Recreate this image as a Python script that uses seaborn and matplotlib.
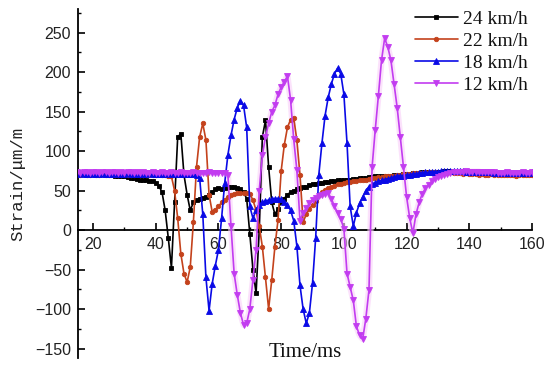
import numpy as np
import matplotlib
matplotlib.use("Agg")
import matplotlib.pyplot as plt
import seaborn as sns
from matplotlib.ticker import MultipleLocator

# ---------------- data ----------------
time_ms = list(range(15, 161))  # sampling times, 1 ms

s24 = [72, 72, 71, 72, 71, 71, 71, 70, 71, 70,        # 15-24
       70, 70, 69, 69, 68, 68, 67, 66, 66, 65,        # 25-34
       64, 63, 63, 62, 62, 60, 56, 48, 25, -10,       # 35-44
       -48, 35, 118, 122, 70, 45, 25, 35, 38, 40,     # 45-54
       41, 42, 45, 48, 52, 53, 52, 53, 54, 54,        # 55-64
       55, 53, 52, 48, 40, -5, -50, -80, 0, 118,      # 65-74
       139, 80, 35, 20, 27, 35, 40, 45, 48, 50,       # 75-84
       52, 53, 54, 55, 57, 58, 59, 60, 60, 61,        # 85-94
       61, 62, 62, 63, 63, 64, 64, 64, 65, 65,        # 95-104
       66, 66, 66, 67, 67, 68, 68, 68, 69, 69,        # 105-114
       69, 70, 70, 70, 71, 71, 71, 72, 72, 72,        # 115-124
       73, 73, 73, 74, 74, 74, 74, 75, 75, 75,        # 125-134
       75, 75, 75, 74, 74, 74, 74, 74, 73, 73,        # 135-144
       73, 73, 72, 72, 72, 72, 72, 72, 71, 72,        # 145-154
       71, 71, 72, 71, 71, 72]                        # 155-160

s22 = [71, 70, 71, 70, 70, 71, 70, 70, 71, 70,
       70, 71, 70, 70, 70, 71, 70, 70, 70, 71,
       70, 70, 71, 70, 70, 70, 71, 70, 70, 69,
       68, 50, 15, -30, -55, -66, -47, 10, 80, 118,
       135, 114, 45, 23, 26, 30, 35, 38, 42, 45,
       46, 47, 47, 47, 47, 46, 38, 25, 5, -21,
       -60, -100, -63, -21, 13, 75, 108, 130, 140, 142,
       114, 70, 10, 20, 27, 32, 37, 44, 48, 51,
       53, 55, 56, 58, 59, 60, 61, 61, 62, 62,
       63, 63, 64, 65, 66, 66, 67, 67, 68, 68,
       69, 69, 70, 70, 71, 71, 71, 72, 72, 72,
       72, 73, 73, 73, 73, 72, 72, 72, 72, 73,
       72, 72, 72, 71, 72, 71, 71, 71, 70, 71,
       70, 70, 71, 70, 70, 70, 70, 70, 70, 70,
       69, 70, 70, 70, 70, 70]

s18 = [71, 72, 71, 71, 72, 71, 71, 72, 71, 71,
       71, 71, 72, 71, 71, 71, 72, 71, 71, 71,
       71, 71, 71, 72, 71, 71, 71, 71, 71, 72,
       71, 71, 71, 71, 71, 71, 71, 71, 70, 66,
       20, -60, -102, -68, -45, -25, 15, 60, 95, 120,
       140, 155, 164, 158, 130, 30, 15, 25, 32, 35,
       37, 38, 39, 40, 40, 39, 36, 32, 25, 12,
       -20, -70, -100, -118, -105, -67, -10, 70, 110, 145,
       168, 185, 198, 205, 198, 172, 110, 30, 5, 22,
       34, 42, 50, 55, 58, 60, 62, 63, 64, 65,
       66, 67, 68, 68, 69, 70, 70, 71, 71, 72,
       72, 73, 73, 74, 74, 74, 75, 75, 75, 75,
       75, 75, 75, 75, 74, 74, 74, 74, 73, 73,
       73, 73, 73, 72, 72, 72, 72, 72, 72, 72,
       72, 72, 72, 72, 72, 73]

s12 = [73, 72, 73, 73, 72, 73, 73, 72, 73, 73,
       72, 73, 73, 72, 73, 72, 73, 73, 72, 73,
       72, 73, 72, 72, 73, 72, 72, 73, 72, 72,
       73, 72, 72, 73, 72, 72, 72, 73, 72, 72,
       72, 72, 73, 72, 72, 72, 72, 72, 70, 5,
       -55, -82, -105, -120, -118, -100, -63, -25, 50, 95,
       118, 135, 150, 158, 172, 181, 188, 195, 165, 115,
       76, 12, 22, 28, 34, 38, 41, 43, 45, 46,
       47, 40, 30, 22, 14, 2, -55, -72, -89, -122,
       -133, -138, -112, -76, 80, 127, 170, 215, 243, 232,
       215, 185, 155, 118, 80, 42, 15, -4, 20, 35,
       46, 53, 57, 62, 65, 67, 69, 70, 71, 72,
       73, 73, 74, 74, 75, 74, 74, 74, 74, 73,
       73, 73, 73, 73, 72, 72, 72, 73, 72, 72,
       72, 72, 73, 72, 72, 73]

labels = ["24 km/h", "22 km/h", "18 km/h", "12 km/h"]
series = [s24, s22, s18, s12]
colors = ["#000000", "#C4421C", "#0A0AE6", "#C23CF0"]
markers = ["s", "o", "^", "v"]
msizes = [3.0, 3.2, 3.8, 3.8]

x_ticks = [20, 40, 60, 80, 100, 120, 140, 160]
y_ticks = [-150, -100, -50, 0, 50, 100, 150, 200, 250]

# ---------------- figure ----------------
sns.set_theme(style="white")
plt.rcParams["font.family"] = ["Liberation Sans", "DejaVu Sans"]

fig = plt.figure(figsize=(5.5, 3.69), dpi=100)
ax = fig.add_axes([0.1418, 0.0298, 0.8255, 0.9458])

# faint pink halo seen around the 12 km/h curve
sns.lineplot(x=time_ms, y=s12, ax=ax, color="#F9CFF9", linewidth=4.5,
             alpha=0.6, legend=False, zorder=2.6, estimator=None)

for vals, lab, col, mk, ms in zip(series, labels, colors, markers, msizes):
    sns.lineplot(x=time_ms, y=vals, ax=ax, color=col, marker=mk,
                 markersize=ms, markeredgecolor=col, markeredgewidth=0.6,
                 linewidth=1.2, label=lab, zorder=3, estimator=None)

ax.set_xlim(15.2, 160)
ax.set_ylim(-162, 280)

for sp in ["top", "right"]:
    ax.spines[sp].set_visible(False)
ax.spines["bottom"].set_position(("data", 0))
ax.spines["bottom"].set_bounds(15.2, 160)
ax.spines["left"].set_linewidth(1.3)
ax.spines["bottom"].set_linewidth(1.3)
ax.spines["left"].set_color("black")
ax.spines["bottom"].set_color("black")

ax.set_xticks(x_ticks)
ax.set_yticks(y_ticks)
ax.xaxis.set_minor_locator(MultipleLocator(10))
ax.yaxis.set_minor_locator(MultipleLocator(25))
ax.tick_params(axis="both", which="major", direction="in", length=5,
               width=1.2, colors="black", labelsize=11.5, labelcolor="#222222")
ax.tick_params(axis="both", which="minor", direction="in", length=2.5,
               width=1.0, colors="black")
ax.tick_params(axis="x", which="both", bottom=True, pad=5)
ax.tick_params(axis="y", which="both", left=True, pad=5)
for t in ax.get_xticklabels() + ax.get_yticklabels():
    t.set_fontfamily(["Liberation Sans", "DejaVu Sans"])

ax.set_xlabel("Time/ms", fontsize=15, fontfamily=["Liberation Serif", "DejaVu Serif"],
              color="#111111")
ax.xaxis.set_label_coords(0.5, 0.016)
ax.xaxis.label.set_va("center")

ax.set_ylabel("Strain/\u03bcm/m", fontsize=12.5,
              fontfamily=["Liberation Mono", "DejaVu Sans Mono"],
              color="#222222")
ax.yaxis.set_label_coords(-0.132, 0.50)
ax.yaxis.label.set_va("center")

handles, labs = ax.get_legend_handles_labels()
leg = ax.legend(handles, labs, loc="upper left",
                bbox_to_anchor=(0.7545, 0.972), bbox_transform=fig.transFigure,
                frameon=False, borderpad=0, borderaxespad=0,
                handlelength=2.2, handletextpad=0.25, labelspacing=0.22,
                prop={"family": ["Liberation Serif", "DejaVu Serif"], "size": 14})
for txt in leg.get_texts():
    txt.set_color("#111111")

fig.savefig("out.png", dpi=100)
